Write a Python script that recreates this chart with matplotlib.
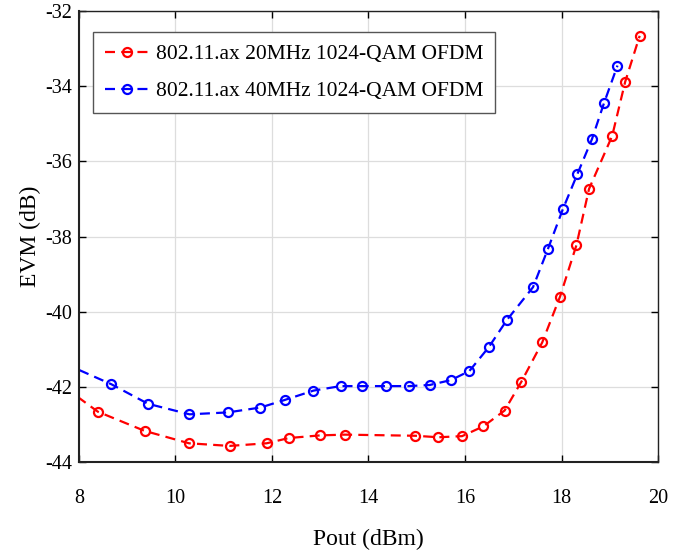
import matplotlib
matplotlib.use("Agg")
import matplotlib.pyplot as plt

# EVM vs output power, 802.11ax 1024-QAM OFDM at two bandwidths
pout_20 = [7.7, 8.39, 9.36, 10.28, 11.12, 11.89, 12.35, 13.0, 13.51, 14.97,
           15.45, 15.94, 16.38, 16.82, 17.17, 17.60, 17.97, 18.31, 18.57,
           19.05, 19.32, 19.62]
evm_20 = [-42.0, -42.65, -43.16, -43.49, -43.56, -43.49, -43.35, -43.28, -43.26,
          -43.29, -43.33, -43.30, -43.04, -42.62, -41.85, -40.81, -39.59,
          -38.22, -36.73, -35.32, -33.88, -32.66]

pout_40 = [7.7, 8.67, 9.43, 10.29, 11.08, 11.76, 12.26, 12.86, 13.42, 13.86,
           14.36, 14.83, 15.27, 15.71, 16.09, 16.49, 16.87, 17.41, 17.72,
           18.03, 18.33, 18.63, 18.88, 19.16]
evm_40 = [-41.37, -41.92, -42.44, -42.72, -42.67, -42.54, -42.34, -42.09, -41.97,
          -41.97, -41.97, -41.97, -41.94, -41.81, -41.57, -40.94, -40.21,
          -39.34, -38.32, -37.26, -36.33, -35.41, -34.45, -33.45]

labels = ["802.11.ax 20MHz 1024-QAM OFDM", "802.11.ax 40MHz 1024-QAM OFDM"]

plt.rcParams["font.family"] = ["Liberation Serif", "DejaVu Serif"]
plt.rcParams["axes.unicode_minus"] = False

fig = plt.figure(figsize=(6.85, 5.53), dpi=100)
ax = fig.add_axes([0.1153, 0.1637, 0.8453, 0.8164])

style = dict(linestyle=(0, (4.5, 2.8)), linewidth=1.6, marker="o", markersize=6.5,
             markerfacecolor="none", markeredgewidth=1.6)
ax.plot(pout_20, evm_20, color="#ff0000", label=labels[0], **style)
ax.plot(pout_40, evm_40, color="#0000ff", label=labels[1], **style)

ax.set_xlim(8, 20)
ax.set_ylim(-44, -32)
ax.set_xticks(range(8, 21, 2))
ax.set_yticks(range(-44, -31, 2))
ax.grid(True, color="#dddddd", linewidth=0.9)
ax.tick_params(direction="in", top=True, right=True, length=5, width=1,
               labelsize=14.5)
ax.tick_params(axis="y", pad=5)
ax.tick_params(axis="x", pad=19)
for side in ["left", "bottom"]:
    ax.spines[side].set_linewidth(1.5)
    ax.spines[side].set_color("#222222")
for side in ["top", "right"]:
    ax.spines[side].set_linewidth(1.0)
    ax.spines[side].set_color("#222222")

ax.set_xlabel("Pout (dBm)", fontsize=17, labelpad=15)
ax.set_ylabel("EVM (dB)", fontsize=17, labelpad=3)

leg = ax.legend(loc="upper left", bbox_to_anchor=(0.024, 0.953), fontsize=15.5,
                fancybox=False, framealpha=1, edgecolor="#555555",
                handlelength=2.1, handletextpad=0.28, borderpad=0.55,
                labelspacing=0.8, borderaxespad=0)
leg.get_frame().set_linewidth(1.0)

fig.savefig("out.png", dpi=100)
